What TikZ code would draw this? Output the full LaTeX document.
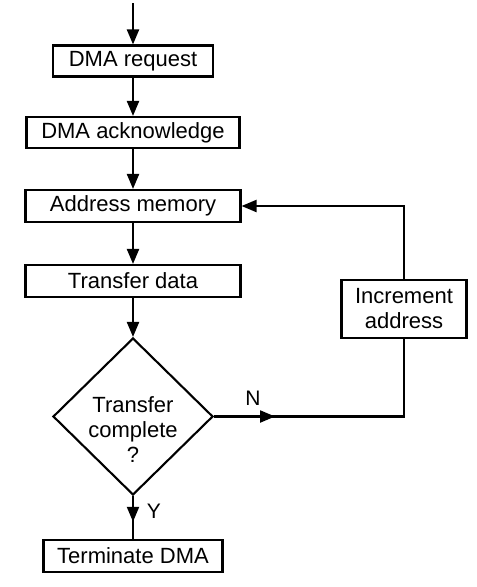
\documentclass[tikz,border=0pt]{standalone}
\usepackage{fontspec}
\setmainfont{Liberation Sans}
\usetikzlibrary{shapes.geometric,arrows.meta,decorations.markings}
\begin{document}
\begin{tikzpicture}[x=1pt,y=-1pt,
  every node/.style={font=\fontsize{22}{25}\selectfont},
  box/.style={draw,line width=2.1pt,rectangle,inner sep=0pt,align=center},
  dia/.style={draw,line width=2.1pt,diamond,inner sep=0pt},
  conn/.style={line width=2.1pt},
  arr/.style={conn,-{Triangle[length=15pt,width=12pt]}},
  midarr/.style={conn,postaction={decorate},decoration={markings,
     mark=at position #1 with {\arrow{Triangle[length=15pt,width=12pt]}}}},
  lbl/.style={font=\fontsize{21}{24}\selectfont}
]
\useasboundingbox (0,0) rectangle (477,587);
\node[box,minimum width=160pt,minimum height=31pt] (req) at (133,61) {DMA request};
\node[box,minimum width=213pt,minimum height=31pt] (ack) at (133,132.5) {DMA acknowledge};
\node[box,minimum width=215pt,minimum height=32pt] (addr) at (133,206) {Address memory};
\node[box,minimum width=215pt,minimum height=32pt] (xfer) at (133,281) {Transfer data};
\node[dia,minimum width=160pt,minimum height=157pt] (dec) at (133,416.5) {};
\node[align=center,inner sep=0pt] (dectext) at (133,430) {Transfer\\complete\\?};
\node[box,minimum width=179pt,minimum height=32pt] (term) at (133,556) {Terminate DMA};
\node[box,minimum width=125pt,minimum height=58pt] (inc) at (404,309) {Increment\\address};
\coordinate (start) at (133,3);
\coordinate (corner) at (dec.east -| inc.south);
\node[lbl] (nlab) at (253,398) {N};
\node[lbl] (ylab) at (154,511) {Y};
\draw[arr] (start) -- (req.north);
\draw[arr] (req.south) -- (ack.north);
\draw[arr] (ack.south) -- (addr.north);
\draw[arr] (addr.south) -- (xfer.north);
\draw[arr] (xfer.south) -- (dec.north);
\draw[midarr=0.6] (dec.south) -- (term.north);
\draw[midarr=61pt] (dec.east) -- (corner) -- (inc.south);
\draw[arr] (inc.north) |- (addr.east);
\end{tikzpicture}
\end{document}
